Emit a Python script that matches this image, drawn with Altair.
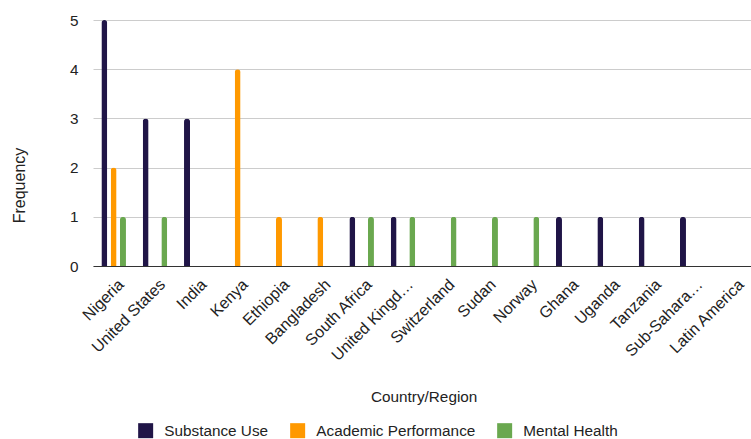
import altair as alt
import pandas as pd

countries = [
    "Nigeria", "United States", "India", "Kenya", "Ethiopia", "Bangladesh",
    "South Africa", "United Kingd…", "Switzerland", "Sudan", "Norway",
    "Ghana", "Uganda", "Tanzania", "Sub-Sahara…", "Latin America",
]
series = ["Substance Use", "Academic Performance", "Mental Health"]
colors = ["#201547", "#ff9900", "#6aa84f"]

substance_use = [5, 3, 3, 0, 0, 0, 1, 1, 0, 0, 0, 1, 1, 1, 1, 0]
academic_performance = [2, 0, 0, 4, 1, 1, 0, 0, 0, 0, 0, 0, 0, 0, 0, 0]
mental_health = [1, 1, 0, 0, 0, 0, 1, 1, 1, 1, 1, 0, 0, 0, 0, 0]

rows = []
for name, values in zip(series, [substance_use, academic_performance, mental_health]):
    for c, v in zip(countries, values):
        rows.append({"Country/Region": c, "Series": name, "Frequency": v})
df = pd.DataFrame(rows)

FONT = "Liberation Sans"
TEXT = "#222222"
SIZE = 15.3

bars = (
    alt.Chart(df)
    .transform_filter(alt.datum.Frequency > 0)
    .mark_bar(cornerRadiusTopLeft=3, cornerRadiusTopRight=3)
    .encode(
        x=alt.X(
            "Country/Region:N",
            sort=countries,
            scale=alt.Scale(
                domain=countries,
                range=[6, 667.3],
                paddingInner=0.323,
                paddingOuter=0.1615,
            ),
            axis=alt.Axis(
                title="Country/Region",
                labelAngle=-45,
                labelFontSize=16,
                labelColor=TEXT,
                labelPadding=10,
                labelOffset=2,
                ticks=False,
                domainColor="#333333",
                titleFontSize=SIZE,
                titleFontWeight="normal",
                titleColor=TEXT,
                titleY=130,
                titleBaseline="middle",
            ),
        ),
        xOffset=alt.XOffset(
            "Series:N",
            sort=series,
            scale=alt.Scale(domain=series, paddingInner=0.357, paddingOuter=0.18),
        ),
        y=alt.Y(
            "Frequency:Q",
            scale=alt.Scale(domain=[0, 5], nice=False),
            axis=alt.Axis(
                title="Frequency",
                values=[0, 1, 2, 3, 4, 5],
                format="d",
                labelFontSize=SIZE,
                labelColor=TEXT,
                labelPadding=9,
                ticks=False,
                domain=False,
                gridColor="#cccccc",
                titleFontSize=16,
                titleFontWeight="normal",
                titleColor=TEXT,
                titleX=-60,
                titleY=165,
            ),
        ),
        color=alt.Color(
            "Series:N",
            sort=series,
            scale=alt.Scale(domain=series, range=colors),
            legend=alt.Legend(
                title=None,
                orient="none",
                legendX=51,
                legendY=403,
                direction="horizontal",
                symbolType="square",
                symbolSize=225,
                symbolStrokeWidth=0,
                labelFontSize=SIZE,
                labelColor=TEXT,
                columnPadding=21,
                labelOffset=11,
            ),
        ),
    )
)

chart = (
    bars.properties(
        width=658,
        height=246,
        autosize=alt.AutoSizeParams(type="none"),
        padding={"left": 87, "top": 20, "right": 6, "bottom": 173},
    )
    .configure(font=FONT)
    .configure_view(stroke=None)
)

chart.save("out.html", embed_options={"renderer": "svg", "actions": False})
